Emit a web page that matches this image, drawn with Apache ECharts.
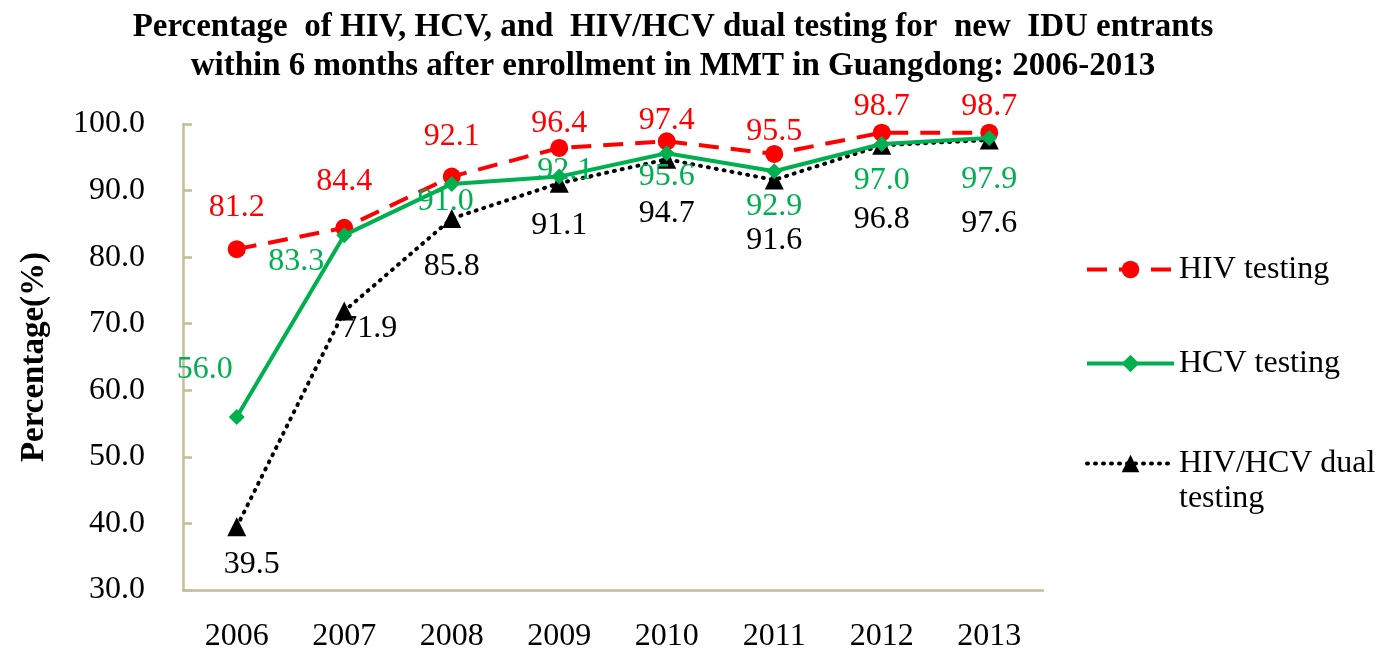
<!DOCTYPE html>
<html>
<head>
<meta charset="utf-8">
<script src="https://cdn.jsdelivr.net/npm/echarts@6/dist/echarts.min.js"></script>
<style>
html,body{margin:0;padding:0;background:#fff;}
#chart{width:1391px;height:654px;}
</style>
</head>
<body>
<div id="chart"></div>
<script>
var years = ['2006','2007','2008','2009','2010','2011','2012','2013'];
var hivTesting = [81.2, 84.4, 92.1, 96.4, 97.4, 95.5, 98.7, 98.7];
var hcvTesting = [56.0, 83.3, 91.0, 92.1, 95.6, 92.9, 97.0, 97.9];
var dualTesting = [39.5, 71.9, 85.8, 91.1, 94.7, 91.6, 96.8, 97.6];
var seriesNames = ['HIV testing', 'HCV testing', 'HIV/HCV dual testing'];
var titleText = 'Percentage  of HIV, HCV, and  HIV/HCV dual testing for  new  IDU entrants\nwithin 6 months after enrollment in MMT in Guangdong: 2006-2013';

var FONT = '"Liberation Serif", "Times New Roman", serif';
var LABEL_SIZE = 32;

// label offsets (style only)
var hivOff = [[0,-42],[0,-46],[0,-40],[0,-24],[0,-21],[0,-22],[0,-26],[0,-26]];
var hcvOff = [[-32,-47],[-48,26],[-6,18],[6,-6],[0,23],[0,35],[0,37],[0,42]];
var dualOff = [[15,38],[25,18],[0,48],[0,42],[0,54],[0,61],[0,74],[0,84]];

function build(vals, offs, color) {
  return vals.map(function (v, i) {
    return {
      value: v,
      label: { show: true, position: 'inside', offset: offs[i], color: color,
               fontFamily: FONT, fontSize: LABEL_SIZE,
               formatter: function (p) { return p.value.toFixed(1); } }
    };
  });
}

var legendText = { fontFamily: FONT, fontSize: 32, color: '#000', lineHeight: 35 };

var chart = echarts.init(document.getElementById('chart'));
chart.setOption({
  animation: false,
  backgroundColor: '#ffffff',
  title: {
    text: titleText,
    left: 668, top: 3, textAlign: 'center',
    textStyle: { fontFamily: FONT, fontWeight: 'bold', fontSize: 33, lineHeight: 39, color: '#000' }
  },
  grid: { left: 183, top: 124, right: 348, bottom: 64, containLabel: false },
  legend: [
    {
      orient: 'vertical',
      left: 1080, top: 247,
      itemWidth: 87, itemHeight: 22, itemGap: 59,
      lineStyle: { width: 4 },
      textStyle: legendText,
      data: [seriesNames[0], seriesNames[1]]
    },
    {
      orient: 'vertical',
      left: 1080, top: 406,
      itemWidth: 87, itemHeight: 22,
      lineStyle: { width: 4 },
      textStyle: legendText,
      formatter: function (n) { return '\n' + n.replace('dual ', 'dual\n'); },
      data: [seriesNames[2]]
    }
  ],
  xAxis: {
    type: 'category', data: years, boundaryGap: true,
    axisLine: { lineStyle: { color: '#c4bd97', width: 2.5 } },
    axisTick: { show: false },
    axisLabel: { fontFamily: FONT, fontSize: 32, color: '#000', margin: 31 }
  },
  yAxis: {
    type: 'value', min: 30, max: 100, interval: 10,
    name: 'Percentage(%)', nameLocation: 'middle', nameGap: 132, nameRotate: 90,
    nameTextStyle: { fontFamily: FONT, fontWeight: 'bold', fontSize: 33, color: '#000' },
    axisLine: { show: true, lineStyle: { color: '#c4bd97', width: 2.5 } },
    axisTick: { show: true, inside: true, length: 9, lineStyle: { color: '#c4bd97', width: 2.5 } },
    splitLine: { show: false },
    axisLabel: { fontFamily: FONT, fontSize: 32, color: '#000', margin: 38,
                 formatter: function (v) { return v.toFixed(1); } }
  },
  series: [
    {
      name: seriesNames[0], type: 'line', data: build(hivTesting, hivOff, '#ff0000'),
      symbol: 'circle', symbolSize: 18, z: 3,
      itemStyle: { color: '#ff0000' },
      lineStyle: { color: '#ff0000', width: 4, type: [20, 12] }
    },
    {
      name: seriesNames[1], type: 'line', data: build(hcvTesting, hcvOff, '#00b050'),
      symbol: 'diamond', symbolSize: 16, z: 4,
      itemStyle: { color: '#00b050' },
      lineStyle: { color: '#00b050', width: 4 }
    },
    {
      name: seriesNames[2], type: 'line', data: build(dualTesting, dualOff, '#000000'),
      symbol: 'triangle', symbolSize: 19, z: 2,
      itemStyle: { color: '#000000' },
      lineStyle: { color: '#000000', width: 4, type: [1, 7], cap: 'round' }
    }
  ]
});
</script>
</body>
</html>
